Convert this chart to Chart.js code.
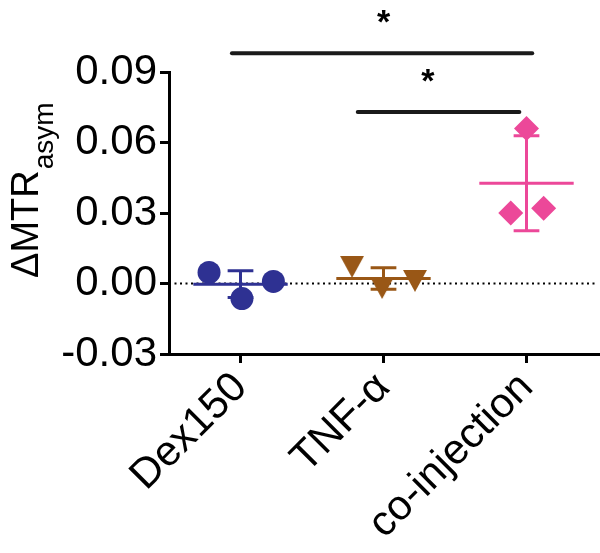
<!DOCTYPE html>
<html lang="en">
<head>
<meta charset="UTF-8">
<title>MTRasym</title>
<style>
  html, body { margin: 0; padding: 0; background: #fff; }
</style>
</head>
<body>

<canvas id="myChart" width="600" height="553"></canvas>

<script src="https://cdn.jsdelivr.net/npm/chart.js@4.4.0/dist/chart.umd.min.js"></script>
<script>
// data
var groups = ['Dex150', 'TNF-α', 'co-injection'];
var dex150 = [0.0047, -0.0064, 0.0009];
var tnfAlpha = [0.0071, -0.0019, 0.0011];
var coInjection = [0.066, 0.030, 0.032];
var jitter = [[-0.22, 0.01, 0.23], [-0.22, -0.01, 0.22], [0.0, -0.11, 0.12]];
var yTicks = [-0.03, 0.00, 0.03, 0.06, 0.09];
// significance bars: from group, to group, height
var sigBars = [[-0.06, 2.04, 0.098], [0.82, 1.95, 0.073]];
var sigStars = [[1.0, 0.113, '*'], [1.31, 0.088, '*']];

var colors = ['#2E3192', '#995716', '#EC4899'];
var FONT = 'Liberation Sans, Arial, Helvetica, sans-serif';

function mean(a) { return a.reduce(function(s, v) { return s + v; }, 0) / a.length; }
function sd(a) {
    var m = mean(a);
    return Math.sqrt(a.reduce(function(s, v) { return s + (v - m) * (v - m); }, 0) / (a.length - 1));
}

// down triangle image, centred on its box like the original
function triangleDown(w, h, color) {
    var c = document.createElement('canvas');
    c.width = w; c.height = h;
    var g = c.getContext('2d');
    g.fillStyle = color;
    g.beginPath();
    g.moveTo(0, 0); g.lineTo(w, 0); g.lineTo(w / 2, h);
    g.closePath(); g.fill();
    return c;
}

var series = [dex150, tnfAlpha, coInjection];
var styles = ['circle', triangleDown(24, 22, colors[1]), 'rectRot'];
var radii = [11.5, 12, 12.5];

var datasets = [];

// dotted zero line
datasets.push({
    type: 'line',
    data: [{x: -0.5, y: 0}, {x: 2.5, y: 0}],
    borderColor: '#000',
    borderWidth: 2,
    borderDash: [2, 3.5],
    pointRadius: 0,
    order: 3
});

series.forEach(function(vals, i) {
    var m = mean(vals), s = sd(vals);
    datasets.push({
        type: 'line',
        data: [
            {x: i - 0.33, y: m}, {x: i + 0.33, y: m}, {x: i, y: null},
            {x: i, y: m - s}, {x: i, y: m + s}, {x: i, y: null},
            {x: i - 0.09, y: m + s}, {x: i + 0.09, y: m + s}, {x: i, y: null},
            {x: i - 0.09, y: m - s}, {x: i + 0.09, y: m - s}
        ],
        borderColor: colors[i],
        borderWidth: 3,
        pointRadius: 0,
        spanGaps: false,
        order: 2
    });
    datasets.push({
        type: 'scatter',
        data: vals.map(function(v, k) { return {x: i + jitter[i][k], y: v}; }),
        backgroundColor: colors[i],
        borderColor: colors[i],
        borderWidth: 0,
        pointStyle: styles[i],
        pointRadius: radii[i],
        pointHoverRadius: radii[i],
        order: 1
    });
});

sigBars.forEach(function(b) {
    datasets.push({
        type: 'line',
        data: [{x: b[0], y: b[2]}, {x: b[1], y: b[2]}],
        borderColor: '#1a1a1a',
        borderWidth: 4,
        borderCapStyle: 'round',
        pointRadius: 0,
        clip: false,
        order: 0
    });
});

var extras = {
    id: 'extras',
    afterDraw: function(chart) {
        var ctx = chart.ctx, xs = chart.scales.x, ys = chart.scales.y;
        ctx.save();
        ctx.fillStyle = '#000';
        ctx.textAlign = 'center';
        ctx.textBaseline = 'middle';
        ctx.font = 'bold 34px ' + FONT;
        sigStars.forEach(function(s) {
            ctx.fillText(s[2], xs.getPixelForValue(s[0]), ys.getPixelForValue(s[1]) + 6);
        });
        // y title with subscript
        ctx.translate(38, 278);
        ctx.rotate(-Math.PI / 2);
        ctx.textAlign = 'left';
        ctx.textBaseline = 'alphabetic';
        ctx.font = '38px ' + FONT;
        ctx.fillText('ΔMTR', 0, 0);
        var w = ctx.measureText('ΔMTR').width;
        ctx.font = '28px ' + FONT;
        ctx.fillText('asym', w + 1, 15);
        ctx.restore();
    }
};

var ctx = document.getElementById('myChart').getContext('2d');
var chart = new Chart(ctx, {
    type: 'scatter',
    data: { datasets: datasets },
    options: {
        responsive: false,
        animation: false,
        devicePixelRatio: 1,
        layout: { autoPadding: false, padding: { top: 72, right: 2, left: 0, bottom: 0 } },
        plugins: { legend: { display: false }, tooltip: { enabled: false } },
        scales: {
            x: {
                type: 'linear',
                min: -0.5,
                max: 2.5,
                afterBuildTicks: function(scale) {
                    scale.ticks = groups.map(function(g, i) { return {value: i}; });
                },
                afterFit: function(scale) {
                    scale.height = 199;
                    scale.paddingLeft = 0;
                    scale.paddingRight = 0;
                },
                ticks: {
                    autoSkip: false,
                    minRotation: 45,
                    maxRotation: 45,
                    color: '#000',
                    font: { family: FONT, size: 42 },
                    padding: 0,
                    callback: function(v) { return groups[v]; }
                },
                grid: { drawOnChartArea: false, drawTicks: true, tickLength: 9, color: '#000', lineWidth: 3 },
                border: { display: true, color: '#000', width: 3 }
            },
            y: {
                min: -0.03,
                max: 0.09,
                afterBuildTicks: function(scale) {
                    scale.ticks = yTicks.map(function(v) { return {value: v}; });
                },
                afterFit: function(scale) { scale.width = 169; },
                ticks: {
                    color: '#000',
                    font: { family: FONT, size: 42 },
                    padding: 3,
                    callback: function(v) { return v.toFixed(2); }
                },
                grid: { drawOnChartArea: false, drawTicks: true, tickLength: 9, color: '#000', lineWidth: 3 },
                border: { display: true, color: '#000', width: 3 }
            }
        }
    },
    plugins: [extras]
});
</script>
</body>
</html>
